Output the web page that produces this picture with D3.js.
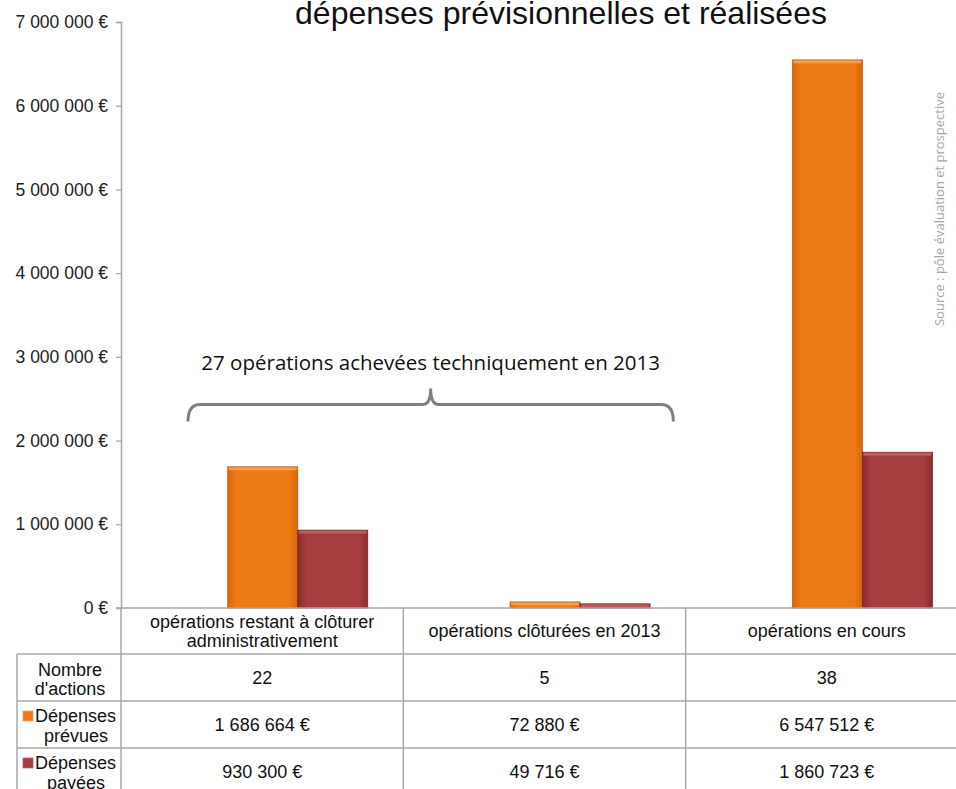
<!DOCTYPE html>
<html>
<head>
<meta charset="utf-8">
<script src="https://cdn.jsdelivr.net/npm/d3@7"></script>
<style>
  body { margin: 0; background: #fff; }
  svg { display: block; }
</style>
</head>
<body>
<svg id="chart" width="956" height="789"></svg>
<script>
// data
const categories = [
  ["opérations restant à clôturer", "administrativement"],
  ["opérations clôturées en 2013"],
  ["opérations en cours"]
];
const seriesNames = ["Dépenses prévues", "Dépenses payées"];
const nbActions = [22, 5, 38];
const depensesPrevues = [1686664, 72880, 6547512];
const depensesPayees = [930300, 49716, 1860723];
const yTicks = [0, 1000000, 2000000, 3000000, 4000000, 5000000, 6000000, 7000000];
const rowHeaders = [["Nombre", "d'actions"], ["Dépenses", "prévues"], ["Dépenses", "payées"]];

const title = "dépenses prévisionnelles et réalisées";
const annotation = "27 opérations achevées techniquement en 2013";
const source = "Source : pôle évaluation et prospective";

const svg = d3.select("#chart"),
  width = 956,
  height = 789;

const fr = d3.formatLocale({ decimal: ",", thousands: " ", grouping: [3], currency: ["", " €"] });
const euro = fr.format("$,");

const catKeys = categories.map(c => c.join(" "));
const x = d3.scaleBand().domain(catKeys).range([121, 968]);
const y = d3.scaleLinear().domain([0, 7000000]).range([608, 22]);
const inner = d3.scaleBand().domain(seriesNames).range([0, 140]);

const colors = ["orange", "red"];
const defs = svg.append("defs");

function gradient(id, edge, mid) {
  let g = defs.append("linearGradient").attr("id", id).attr("x1", 0).attr("x2", 1).attr("y1", 0).attr("y2", 0);
  g.append("stop").attr("offset", "0%").attr("stop-color", edge);
  g.append("stop").attr("offset", "12%").attr("stop-color", mid);
  g.append("stop").attr("offset", "88%").attr("stop-color", mid);
  g.append("stop").attr("offset", "100%").attr("stop-color", edge);
}
gradient("orange", "#d8650b", "#ee7a16");
gradient("red", "#8c2a2d", "#a63d3f");
const highlight = { orange: "#f6a85c", red: "#c46565" };
const stroke = { orange: "#c75d0c", red: "#7e2427" };

// title
svg.append("text")
  .attr("x", 561).attr("y", 24)
  .attr("text-anchor", "middle")
  .style("font-family", "Liberation Sans, Arial, sans-serif")
  .style("font-size", "32px")
  .style("fill", "#111")
  .text(title);

// y axis
const yAxis = svg.append("g")
  .attr("transform", "translate(121,0)")
  .call(d3.axisLeft(y).tickValues(yTicks).tickSize(5).tickPadding(8).tickFormat(euro));
yAxis.select(".domain").attr("stroke", "#a6a6a6").attr("stroke-width", 1.5);
yAxis.selectAll(".tick line").attr("stroke", "#a6a6a6").attr("stroke-width", 1.2);
yAxis.selectAll(".tick text")
  .style("font-family", "Liberation Sans, Arial, sans-serif")
  .style("font-size", "17.5px")
  .style("fill", "#222");

// bars
const seriesData = [depensesPrevues, depensesPayees];
const barG = svg.append("g");
seriesData.forEach((vals, si) => {
  const name = seriesNames[si];
  const c = colors[si];
  const g = barG.append("g");
  g.selectAll("rect.bar")
    .data(vals)
    .enter()
    .append("rect")
    .attr("class", "bar")
    .attr("x", (d, i) => x(catKeys[i]) + x.bandwidth() * 0.378 + inner(name))
    .attr("y", d => y(d))
    .attr("width", inner.bandwidth())
    .attr("height", d => y(0) - y(d))
    .attr("fill", "url(#" + c + ")")
    .attr("stroke", stroke[c])
    .attr("stroke-width", 0.8);
  g.selectAll("rect.hl")
    .data(vals)
    .enter()
    .append("rect")
    .attr("class", "hl")
    .attr("x", (d, i) => x(catKeys[i]) + x.bandwidth() * 0.378 + inner(name) + 1)
    .attr("y", d => y(d) + 0.5)
    .attr("width", inner.bandwidth() - 2)
    .attr("height", d => Math.min(3, y(0) - y(d) - 1))
    .attr("fill", highlight[c])
    .attr("opacity", 0.8);
});

// bracket annotation
const bx0 = x(catKeys[0]) + 67, bx1 = x(catKeys[1]) + 270, bm = (bx0 + bx1) / 2;
const by = y(2300000) - 11;
svg.append("path")
  .attr("d", `M${bx0},${by + 17} Q${bx0},${by} ${bx0 + 12},${by} L${bm - 8},${by} Q${bm},${by} ${bm},${by - 16} Q${bm},${by} ${bm + 8},${by} L${bx1 - 12},${by} Q${bx1},${by} ${bx1},${by + 17}`)
  .attr("fill", "none")
  .attr("stroke", "#808080")
  .attr("stroke-width", 3);
svg.append("text")
  .attr("x", bm).attr("y", 370)
  .attr("text-anchor", "middle")
  .style("font-family", "Open Sans, sans-serif")
  .style("font-size", "20.5px")
  .style("fill", "#111")
  .text(annotation);

// source
svg.append("text")
  .attr("transform", "translate(944,209) rotate(-90)")
  .attr("text-anchor", "middle")
  .style("font-family", "Open Sans, sans-serif")
  .style("font-size", "13px")
  .style("fill", "#a6a6a6")
  .text(source);

// data table
const rowTop = 608, headH = 46, rowH = 47;
const rowY = [rowTop + headH, rowTop + headH + rowH, rowTop + headH + 2 * rowH, rowTop + headH + 3 * rowH];
const grid = svg.append("g").attr("stroke", "#a9a9a9").attr("stroke-width", 1.5);
grid.append("line").attr("x1", 116).attr("x2", width).attr("y1", rowTop).attr("y2", rowTop);
rowY.slice(0, 3).forEach(v => grid.append("line").attr("x1", 17).attr("x2", width).attr("y1", v).attr("y2", v));
catKeys.forEach(k => grid.append("line").attr("x1", x(k)).attr("x2", x(k)).attr("y1", rowTop).attr("y2", height));
grid.append("line").attr("x1", 17).attr("x2", 17).attr("y1", rowY[0]).attr("y2", height);

const tfont = t => t.style("font-family", "Liberation Sans, Arial, sans-serif").style("font-size", "18px").style("fill", "#111");

// header row: categories
categories.forEach((lines, i) => {
  const cx = x(catKeys[i]) + x.bandwidth() / 2;
  const t = svg.append("text").attr("text-anchor", "middle").call(tfont);
  const start = rowTop + headH / 2 + 6 - (lines.length - 1) * 9.5;
  lines.forEach((l, j) => t.append("tspan").attr("x", cx).attr("y", start + j * 19).text(l));
});

// row headers
rowHeaders.forEach((lines, r) => {
  const top = rowY[r];
  const t = svg.append("text").call(tfont);
  if (r === 0) {
    t.attr("text-anchor", "middle");
    t.append("tspan").attr("x", 70).attr("y", top + 22).text(lines[0]);
    t.append("tspan").attr("x", 70).attr("y", top + 41).text(lines[1]);
  } else {
    const c = colors[r - 1];
    svg.append("rect").attr("x", 23).attr("y", top + 10).attr("width", 10).attr("height", 10)
      .attr("fill", "url(#" + c + ")").attr("stroke", highlight[c]).attr("stroke-width", 0.8);
    t.append("tspan").attr("x", 35).attr("y", top + 21).text(lines[0]);
    t.append("tspan").attr("x", 76).attr("y", top + 41).attr("text-anchor", "middle").text(lines[1]);
  }
});

// row values
const rows = [nbActions.map(String), depensesPrevues.map(euro), depensesPayees.map(euro)];
rows.forEach((vals, r) => {
  svg.append("g").selectAll("text")
    .data(vals)
    .enter()
    .append("text")
    .attr("x", (d, i) => x(catKeys[i]) + x.bandwidth() / 2)
    .attr("y", rowY[r] + 30)
    .attr("text-anchor", "middle")
    .call(tfont)
    .text(d => d);
});
</script>
</body>
</html>
